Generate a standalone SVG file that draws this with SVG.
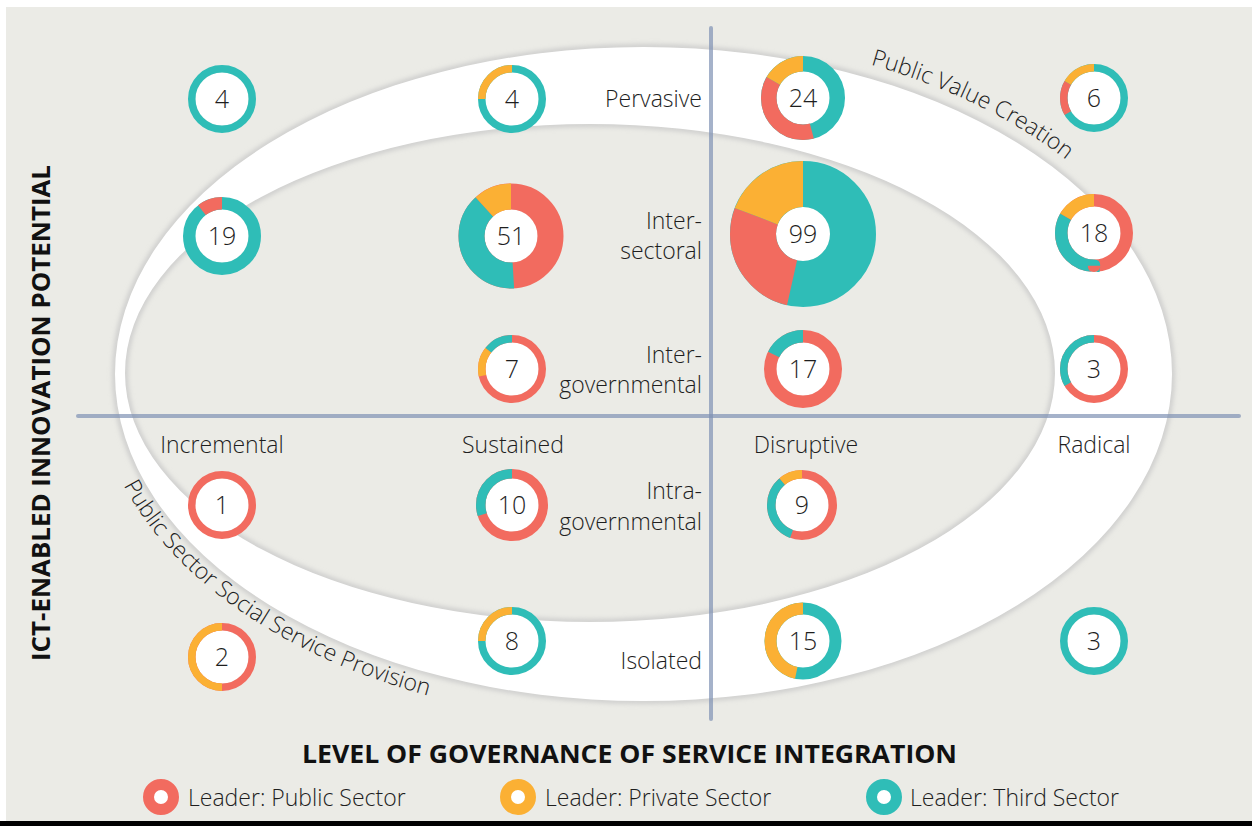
<svg xmlns="http://www.w3.org/2000/svg" width="1252" height="826" viewBox="0 0 1252 826">
<style>
.bg{fill:#EBEBE6}
.hole{fill:#FFFFFF}
.seg{fill:none;stroke-linecap:butt}
.r{stroke:#F26B5F}
.o{stroke:#FBB034}
.t{stroke:#2FBDB7}
.num{font-family:"Open Sans","DejaVu Sans",sans-serif;font-size:25px;font-weight:300;fill:#1E1E1E;text-anchor:middle}
.lbl{font-family:"Open Sans","DejaVu Sans",sans-serif;font-size:23px;font-weight:300;fill:#1E1E1E}
.end{text-anchor:end}
.mid{text-anchor:middle}
.axt{font-family:"Open Sans","DejaVu Sans",sans-serif;font-size:25px;font-weight:bold;fill:#111;text-anchor:middle}
.axis{stroke:#7F92B3;stroke-opacity:0.7;stroke-width:4;stroke-linecap:round;fill:none}
</style>
<defs>
<filter id="soft" x="-10%" y="-10%" width="120%" height="120%"><feGaussianBlur stdDeviation="2.5"/></filter>
<path id="ringshape" d="M 115 374 A 528.5 327 0 1 0 1172 374 A 528.5 327 0 1 0 115 374 Z M 125 373 A 465 249 0 1 0 1055 373 A 465 249 0 1 0 125 373 Z"/>
<path id="pvc" d="M 107 374 A 540 340 0 0 1 1187 374"/>
<path id="pss" d="M 95 374 A 550 350 0 0 0 1195 374"/>
</defs>
<rect x="0" y="0" width="1252" height="826" fill="#FFFFFF"/>
<rect class="bg" x="6" y="7" width="1246" height="815"/>
<rect x="0" y="821" width="1252" height="5" fill="#000000"/>

<g id="ring">
<use href="#ringshape" fill="none" stroke="#C9C9C9" stroke-width="5" filter="url(#soft)"/>
<use href="#ringshape" fill="#FFFFFF" fill-rule="evenodd"/>
</g>

<g id="connectors">
<line class="axis" x1="711" y1="28" x2="711" y2="719"/>
<line class="axis" x1="78" y1="416" x2="1239" y2="416"/>
</g>

<g id="curved-labels">
<text class="lbl"><textPath href="#pvc" startOffset="926">Public Value Creation</textPath></text>
<text class="lbl"><textPath href="#pss" startOffset="116">Public Sector Social Service Provision</textPath></text>
</g>

<g id="row-labels">
<text class="lbl end" x="702" y="107">Pervasive</text>
<text class="lbl end" x="702" y="229">Inter-</text>
<text class="lbl end" x="702" y="259">sectoral</text>
<text class="lbl end" x="702" y="363">Inter-</text>
<text class="lbl end" x="702" y="393">governmental</text>
<text class="lbl end" x="702" y="499">Intra-</text>
<text class="lbl end" x="702" y="530">governmental</text>
<text class="lbl end" x="702" y="669">Isolated</text>
</g>
<g id="col-labels">
<text class="lbl mid" x="222" y="453">Incremental</text>
<text class="lbl mid" x="513" y="453">Sustained</text>
<text class="lbl mid" x="806" y="453">Disruptive</text>
<text class="lbl mid" x="1094" y="453">Radical</text>
</g>

<g id="d4a">
<circle class="hole" cx="222" cy="99" r="26.5"/>
<circle class="seg t" cx="222" cy="99" r="30.25" stroke-width="7.5"/>
<text class="num" x="222" y="108">4</text>
</g>
<g id="d4b">
<circle class="hole" cx="512" cy="99" r="26.5"/>
<g transform="rotate(-90 512 99)">
<circle class="seg t" cx="512" cy="99" r="30.25" stroke-width="7.5"/>
<circle class="seg o" cx="512" cy="99" r="30.25" stroke-width="7.5" pathLength="360" stroke-dasharray="90 360" stroke-dashoffset="-270"/>
</g>
<text class="num" x="512" y="108">4</text>
</g>
<g id="d24">
<circle class="hole" cx="803" cy="98" r="26.5"/>
<g transform="rotate(-90 803 98)">
<circle class="seg t" cx="803" cy="98" r="34.25" stroke-width="15.5"/>
<circle class="seg r" cx="803" cy="98" r="34.25" stroke-width="15.5" pathLength="360" stroke-dasharray="135 360" stroke-dashoffset="-165"/>
<circle class="seg o" cx="803" cy="98" r="34.25" stroke-width="15.5" pathLength="360" stroke-dasharray="60 360" stroke-dashoffset="-300"/>
</g>
<text class="num" x="803" y="107">24</text>
</g>
<g id="d6">
<circle class="hole" cx="1094" cy="98" r="26.5"/>
<g transform="rotate(-90 1094 98)">
<circle class="seg t" cx="1094" cy="98" r="30.25" stroke-width="7.5"/>
<circle class="seg r" cx="1094" cy="98" r="30.25" stroke-width="7.5" pathLength="360" stroke-dasharray="60 360" stroke-dashoffset="-240"/>
<circle class="seg o" cx="1094" cy="98" r="30.25" stroke-width="7.5" pathLength="360" stroke-dasharray="60 360" stroke-dashoffset="-300"/>
</g>
<text class="num" x="1094" y="107">6</text>
</g>
<g id="d19">
<circle class="hole" cx="222" cy="236" r="26.5"/>
<g transform="rotate(-90 222 236)">
<circle class="seg t" cx="222" cy="236" r="32.75" stroke-width="12.5"/>
<circle class="seg r" cx="222" cy="236" r="32.75" stroke-width="12.5" pathLength="360" stroke-dasharray="38 360" stroke-dashoffset="-322"/>
</g>
<text class="num" x="222" y="245">19</text>
</g>
<g id="d51">
<circle class="hole" cx="511" cy="236" r="26.5"/>
<g transform="rotate(-90 511 236)">
<circle class="seg r" cx="511" cy="236" r="39.5" stroke-width="26"/>
<circle class="seg t" cx="511" cy="236" r="39.5" stroke-width="26" pathLength="360" stroke-dasharray="141.1 360" stroke-dashoffset="-176.5"/>
<circle class="seg o" cx="511" cy="236" r="39.5" stroke-width="26" pathLength="360" stroke-dasharray="42.4 360" stroke-dashoffset="-317.6"/>
</g>
<text class="num" x="511" y="245">51</text>
</g>
<g id="d99">
<circle class="hole" cx="803" cy="234" r="27"/>
<g transform="rotate(-90 803 234)">
<circle class="seg t" cx="803" cy="234" r="50" stroke-width="46"/>
<circle class="seg r" cx="803" cy="234" r="50" stroke-width="46" pathLength="360" stroke-dasharray="98.2 360" stroke-dashoffset="-192.7"/>
<circle class="seg o" cx="803" cy="234" r="50" stroke-width="46" pathLength="360" stroke-dasharray="69.1 360" stroke-dashoffset="-290.9"/>
</g>
<text class="num" x="803" y="243">99</text>
</g>
<g id="d18">
<circle class="hole" cx="1094" cy="233" r="26.5"/>
<g transform="rotate(-90 1094 233)">
<circle class="seg r" cx="1094" cy="233" r="32.75" stroke-width="12.5"/>
<circle class="seg t" cx="1094" cy="233" r="32.75" stroke-width="12.5" pathLength="360" stroke-dasharray="120 360" stroke-dashoffset="-180"/>
<circle class="seg o" cx="1094" cy="233" r="32.75" stroke-width="12.5" pathLength="360" stroke-dasharray="60 360" stroke-dashoffset="-300"/>
</g>
<text class="num" x="1094" y="242">18</text>
</g>
<g id="d7">
<circle class="hole" cx="512" cy="369" r="26.5"/>
<g transform="rotate(-90 512 369)">
<circle class="seg r" cx="512" cy="369" r="30.25" stroke-width="7.5"/>
<circle class="seg o" cx="512" cy="369" r="30.25" stroke-width="7.5" pathLength="360" stroke-dasharray="51.6 360" stroke-dashoffset="-257"/>
<circle class="seg t" cx="512" cy="369" r="30.25" stroke-width="7.5" pathLength="360" stroke-dasharray="51.4 360" stroke-dashoffset="-308.6"/>
</g>
<text class="num" x="512" y="378">7</text>
</g>
<g id="d17">
<circle class="hole" cx="803" cy="369" r="26.5"/>
<g transform="rotate(-90 803 369)">
<circle class="seg r" cx="803" cy="369" r="32.75" stroke-width="12.5"/>
<circle class="seg t" cx="803" cy="369" r="32.75" stroke-width="12.5" pathLength="360" stroke-dasharray="63.5 360" stroke-dashoffset="-296.5"/>
</g>
<text class="num" x="803" y="378">17</text>
</g>
<g id="d3a">
<circle class="hole" cx="1094" cy="369" r="26.5"/>
<g transform="rotate(-90 1094 369)">
<circle class="seg r" cx="1094" cy="369" r="30.25" stroke-width="7.5"/>
<circle class="seg t" cx="1094" cy="369" r="30.25" stroke-width="7.5" pathLength="360" stroke-dasharray="120 360" stroke-dashoffset="-240"/>
</g>
<text class="num" x="1094" y="378">3</text>
</g>
<g id="d1">
<circle class="hole" cx="222" cy="505" r="26.5"/>
<circle class="seg r" cx="222" cy="505" r="30.25" stroke-width="7.5"/>
<text class="num" x="222" y="514">1</text>
</g>
<g id="d10">
<circle class="hole" cx="512" cy="505" r="26.5"/>
<g transform="rotate(-90 512 505)">
<circle class="seg r" cx="512" cy="505" r="31.25" stroke-width="9.5"/>
<circle class="seg t" cx="512" cy="505" r="31.25" stroke-width="9.5" pathLength="360" stroke-dasharray="108 360" stroke-dashoffset="-252"/>
</g>
<text class="num" x="512" y="514">10</text>
</g>
<g id="d9">
<circle class="hole" cx="802" cy="505" r="26.5"/>
<g transform="rotate(-90 802 505)">
<circle class="seg r" cx="802" cy="505" r="30.75" stroke-width="8.5"/>
<circle class="seg t" cx="802" cy="505" r="30.75" stroke-width="8.5" pathLength="360" stroke-dasharray="120 360" stroke-dashoffset="-200"/>
<circle class="seg o" cx="802" cy="505" r="30.75" stroke-width="8.5" pathLength="360" stroke-dasharray="40 360" stroke-dashoffset="-320"/>
</g>
<text class="num" x="802" y="514">9</text>
</g>
<g id="d2">
<circle class="hole" cx="222" cy="657" r="26.5"/>
<g transform="rotate(-90 222 657)">
<circle class="seg r" cx="222" cy="657" r="30.25" stroke-width="7.5"/>
<circle class="seg o" cx="222" cy="657" r="30.25" stroke-width="7.5" pathLength="360" stroke-dasharray="180 360" stroke-dashoffset="-180"/>
</g>
<text class="num" x="222" y="666">2</text>
</g>
<g id="d8">
<circle class="hole" cx="512" cy="641" r="26.5"/>
<g transform="rotate(-90 512 641)">
<circle class="seg t" cx="512" cy="641" r="30.25" stroke-width="7.5"/>
<circle class="seg o" cx="512" cy="641" r="30.25" stroke-width="7.5" pathLength="360" stroke-dasharray="90 360" stroke-dashoffset="-270"/>
</g>
<text class="num" x="512" y="650">8</text>
</g>
<g id="d15">
<circle class="hole" cx="803" cy="641" r="26.5"/>
<g transform="rotate(-90 803 641)">
<circle class="seg t" cx="803" cy="641" r="32.5" stroke-width="12"/>
<circle class="seg o" cx="803" cy="641" r="32.5" stroke-width="12" pathLength="360" stroke-dasharray="168 360" stroke-dashoffset="-192"/>
</g>
<text class="num" x="803" y="650">15</text>
</g>
<g id="d3b">
<circle class="hole" cx="1094" cy="641" r="26.5"/>
<circle class="seg t" cx="1094" cy="641" r="30.25" stroke-width="7.5"/>
<text class="num" x="1094" y="650">3</text>
</g>

<g id="axis-titles">
<text class="axt" transform="translate(50 413) rotate(-90)" x="0" y="0" textLength="496" lengthAdjust="spacingAndGlyphs">ICT-ENABLED INNOVATION POTENTIAL</text>
<text class="axt" x="629.5" y="763" textLength="655" lengthAdjust="spacingAndGlyphs">LEVEL OF GOVERNANCE OF SERVICE INTEGRATION</text>
</g>

<g id="legend">
<g id="leg-public">
<circle cx="161" cy="797" r="12.5" fill="#FFFFFF" stroke="#F26B5F" stroke-width="11"/>
<text class="lbl" x="188" y="806">Leader: Public Sector</text>
</g>
<g id="leg-private">
<circle cx="518" cy="797" r="12.5" fill="#FFFFFF" stroke="#FBB034" stroke-width="11"/>
<text class="lbl" x="545" y="806">Leader: Private Sector</text>
</g>
<g id="leg-third">
<circle cx="884" cy="797" r="12.5" fill="#FFFFFF" stroke="#2FBDB7" stroke-width="11"/>
<text class="lbl" x="910" y="806">Leader: Third Sector</text>
</g>
</g>
</svg>
